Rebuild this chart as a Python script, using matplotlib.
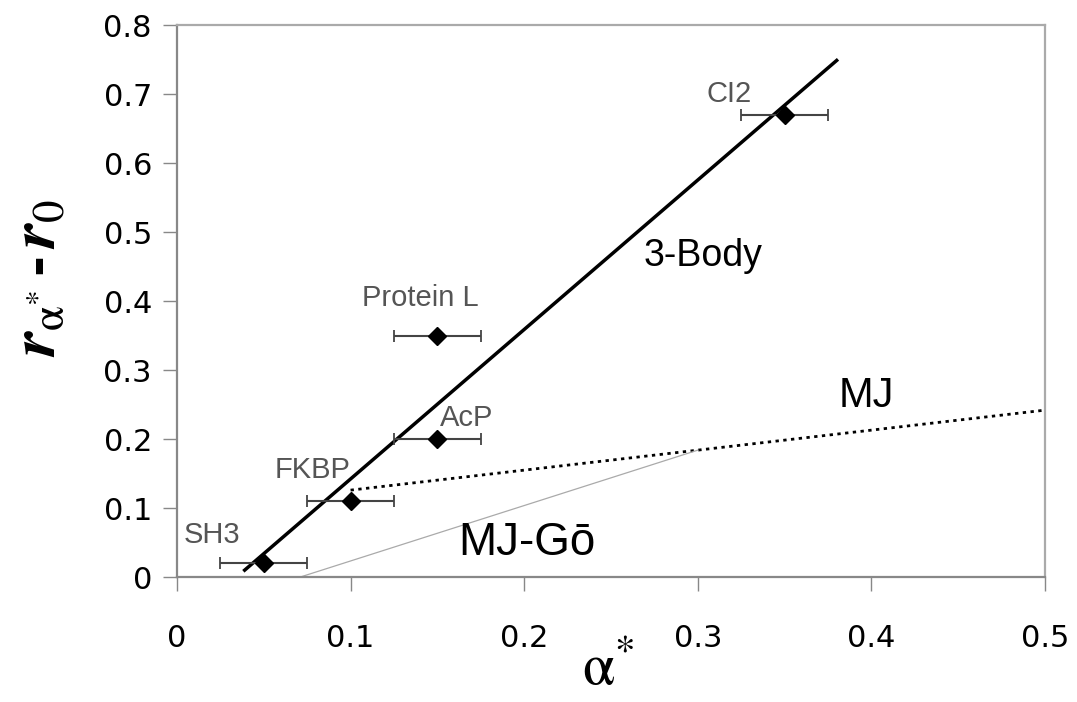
import matplotlib
matplotlib.use('Agg')
import matplotlib.pyplot as plt

plt.rcParams['font.family'] = ['Liberation Sans', 'DejaVu Sans']
plt.rcParams['mathtext.fontset'] = 'custom'
plt.rcParams['mathtext.rm'] = 'STIXGeneral'
plt.rcParams['mathtext.it'] = 'STIXGeneral:italic:bold'
plt.rcParams['mathtext.bf'] = 'STIXGeneral:bold'

# Белки: значения alpha*, r - r0 и ошибка по x
proteins = ['SH3', 'FKBP', 'AcP', 'Protein L', 'CI2']
alpha = [0.05, 0.10, 0.15, 0.15, 0.35]
r_diff = [0.02, 0.11, 0.20, 0.35, 0.67]
alpha_err = [0.025, 0.025, 0.025, 0.025, 0.025]
label_pos = [(0.020, 0.061), (0.078, 0.155), (0.167, 0.23), (0.140, 0.404), (0.318, 0.70)]

# Линии моделей
body3_x = [0.039, 0.380]
body3_y = [0.010, 0.749]
mj_x = [0.100, 0.500]
mj_y = [0.126, 0.242]
mjgo_x = [0.071, 0.300]
mjgo_y = [0.000, 0.184]

xticks = [0, 0.1, 0.2, 0.3, 0.4, 0.5]
xtick_labels = ['0', '0.1', '0.2', '0.3', '0.4', '0.5']
yticks = [0, 0.1, 0.2, 0.3, 0.4, 0.5, 0.6, 0.7, 0.8]
ytick_labels = ['0', '0.1', '0.2', '0.3', '0.4', '0.5', '0.6', '0.7', '0.8']

fig = plt.figure(figsize=(10.77, 7.02), dpi=100)
ax = fig.add_axes([0.1643, 0.178, 0.806, 0.786])

ax.plot(body3_x, body3_y, color='black', lw=2.5, zorder=3)
ax.plot(mj_x, mj_y, color='black', lw=2, linestyle=(0, (1.2, 1.6)), zorder=2)
ax.plot(mjgo_x, mjgo_y, color='#aaaaaa', lw=0.9, zorder=2)

ax.errorbar(alpha, r_diff, xerr=alpha_err, fmt='D', color='black', ms=9,
            ecolor='#444444', elinewidth=1.5, capsize=4, capthick=1.3, zorder=4)

for name, (lx, ly) in zip(proteins, label_pos):
    ax.text(lx, ly, name, fontsize=21, color='#555555', ha='center', va='center')

ax.text(0.303, 0.465, '3-Body', fontsize=27, ha='center', va='center')
ax.text(0.397, 0.262, 'MJ', fontsize=30, ha='center', va='center')
ax.text(0.2015, 0.049, 'MJ-Gō', fontsize=33, ha='center', va='center')

ax.set_xlim(0, 0.5)
ax.set_ylim(0, 0.8)
ax.set_xticks(xticks)
ax.set_xticklabels(xtick_labels, family='DejaVu Sans')
ax.set_yticks(yticks)
ax.set_yticklabels(ytick_labels, family='DejaVu Sans')
ax.tick_params(direction='out', length=10, width=1, color='#888888', labelsize=22)
ax.tick_params(axis='x', pad=24)
ax.tick_params(axis='y', pad=8)

for side in ['left', 'bottom']:
    ax.spines[side].set_color('#888888')
    ax.spines[side].set_linewidth(1.6)
for side in ['top', 'right']:
    ax.spines[side].set_color('#aaaaaa')
    ax.spines[side].set_linewidth(1.6)

# Подписи осей
ax.text(0.497, -0.168, r'$\mathrm{α}^{\mathrm{*}}$', fontsize=42,
        ha='center', va='center', transform=ax.transAxes)
ax.text(-0.16, 0.542, r'$r_{\mathrm{α}^{\mathrm{*}}}\,\mathbf{‐}\,r_{0}$', fontsize=46,
        rotation=90, ha='center', va='center', transform=ax.transAxes)

fig.savefig('out.png', dpi=100)
